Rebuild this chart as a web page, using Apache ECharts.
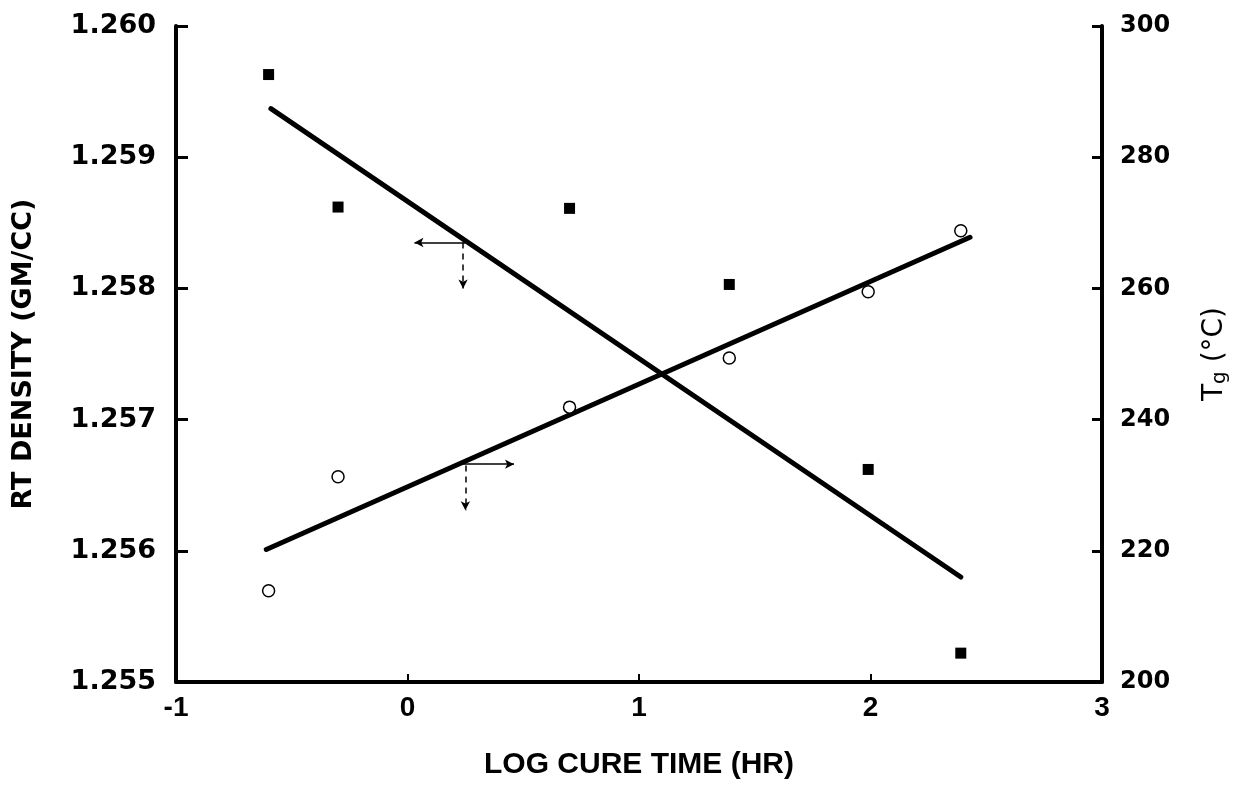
<!DOCTYPE html>
<html>
<head>
<meta charset="utf-8">
<script src="https://cdn.jsdelivr.net/npm/echarts@6/dist/echarts.min.js"></script>
<style>
  html, body { margin: 0; padding: 0; background: #fff; }
  #chart { width: 1255px; height: 785px; }
</style>
</head>
<body>
<div id="chart"></div>
<script>
// ---- data ----
const logCureTime = [-0.60, -0.30, 0.70, 1.39, 1.99, 2.39];
const rtDensity   = [1.25963, 1.25862, 1.25861, 1.25803, 1.25662, 1.25522];
const tgValues    = [213.9, 231.3, 241.9, 249.4, 259.5, 268.8];

const densityFitX = [-0.59, 2.39];
const densityFitY = [1.25937, 1.25580];
const tgFitX      = [-0.61, 2.43];
const tgFitY      = [220.2, 267.8];

// reading guides (data coordinates)
const densityGuideH = [[0.25, 1.25835], [0.03, 1.25835]];
const densityGuideV = [[0.24, 1.25835], [0.24, 1.25800]];
const tgGuideH      = [[0.22, 233.2], [0.46, 233.2]];
const tgGuideV      = [[0.25, 233.0], [0.25, 226.2]];

const xTicks = { min: -1, max: 3, interval: 1 };
const leftTicks = { min: 1.255, max: 1.260, interval: 0.001 };
const rightTicks = { min: 200, max: 300, interval: 20 };

const zip = (xs, ys) => xs.map((x, i) => [x, ys[i]]);
const dashed = { type: [6, 5], width: 1.5, color: '#000' };

const chart = echarts.init(document.getElementById('chart'));
const axisLine = { show: true, onZero: false, lineStyle: { color: '#000', width: 4 } };

chart.setOption({
  animation: false,
  backgroundColor: '#fff',
  grid: { left: 176, right: 153, top: 26, bottom: 99 },
  xAxis: {
    type: 'value', min: xTicks.min, max: xTicks.max, interval: xTicks.interval,
    name: 'LOG CURE TIME (HR)', nameLocation: 'middle', nameGap: 68,
    nameTextStyle: { fontFamily: 'Liberation Sans', fontWeight: 'bold', fontSize: 30, color: '#000' },
    axisLine: axisLine,
    axisTick: { show: true, inside: true, length: 8, lineStyle: { color: '#000', width: 2 } },
    axisLabel: { margin: 12, fontFamily: 'Liberation Sans', fontWeight: 'bold', fontSize: 28, color: '#000' },
    splitLine: { show: false }
  },
  yAxis: [
    {
      type: 'value', position: 'left', min: leftTicks.min, max: leftTicks.max, interval: leftTicks.interval,
      name: 'RT DENSITY (GM/CC)', nameLocation: 'middle', nameRotate: 90, nameGap: 139,
      nameTextStyle: { fontFamily: 'DejaVu Sans', fontWeight: 'bold', fontSize: 27, color: '#000' },
      axisLine: axisLine,
      axisTick: { show: true, inside: true, length: 12, lineStyle: { color: '#000', width: 3 } },
      axisLabel: { margin: 20, fontFamily: 'DejaVu Sans', fontWeight: 'bold', fontSize: 27, color: '#000',
                   formatter: v => v.toFixed(3) },
      splitLine: { show: false }
    },
    {
      type: 'value', position: 'right', min: rightTicks.min, max: rightTicks.max, interval: rightTicks.interval,
      name: '{t|T}{s|g} (°C)', nameLocation: 'middle', nameRotate: 90, nameGap: 98,
      nameTextStyle: { fontFamily: 'DejaVu Sans', fontSize: 28, color: '#000',
        rich: {
          t: { fontFamily: 'DejaVu Sans', fontSize: 28, color: '#000' },
          s: { fontFamily: 'DejaVu Sans', fontSize: 20, color: '#000', verticalAlign: 'bottom', padding: [10, 0, 0, 0] }
        } },
      axisLine: axisLine,
      axisTick: { show: true, inside: true, length: 10, lineStyle: { color: '#000', width: 3 } },
      axisLabel: { margin: 18, fontFamily: 'DejaVu Sans', fontWeight: 'bold', fontSize: 24, color: '#000' },
      splitLine: { show: false }
    }
  ],
  series: [
    {
      type: 'line', name: 'density fit', yAxisIndex: 0, data: zip(densityFitX, densityFitY),
      symbol: 'none', lineStyle: { color: '#000', width: 5, cap: 'round' },
      markLine: {
        silent: true, symbol: ['none', 'arrow'], symbolSize: [7, 9], label: { show: false },
        lineStyle: { color: '#000', width: 1.5, type: 'solid' },
        data: [
          [{ coord: densityGuideH[0] }, { coord: densityGuideH[1] }],
          [{ coord: densityGuideV[0], lineStyle: dashed }, { coord: densityGuideV[1] }]
        ]
      }
    },
    {
      type: 'line', name: 'Tg fit', yAxisIndex: 1, data: zip(tgFitX, tgFitY),
      symbol: 'none', lineStyle: { color: '#000', width: 5, cap: 'round' },
      markLine: {
        silent: true, symbol: ['none', 'arrow'], symbolSize: [7, 9], label: { show: false },
        lineStyle: { color: '#000', width: 1.5, type: 'solid' },
        data: [
          [{ coord: tgGuideH[0] }, { coord: tgGuideH[1] }],
          [{ coord: tgGuideV[0], lineStyle: dashed }, { coord: tgGuideV[1] }]
        ]
      }
    },
    {
      type: 'scatter', name: 'RT density', yAxisIndex: 0, data: zip(logCureTime, rtDensity),
      symbol: 'rect', symbolSize: 11, itemStyle: { color: '#000', opacity: 1 }, z: 5
    },
    {
      type: 'scatter', name: 'Tg', yAxisIndex: 1, data: zip(logCureTime, tgValues),
      symbol: 'circle', symbolSize: 12, itemStyle: { color: '#fff', borderColor: '#000', borderWidth: 1.5, opacity: 1 }, z: 5
    }
  ]
});
</script>
</body>
</html>
